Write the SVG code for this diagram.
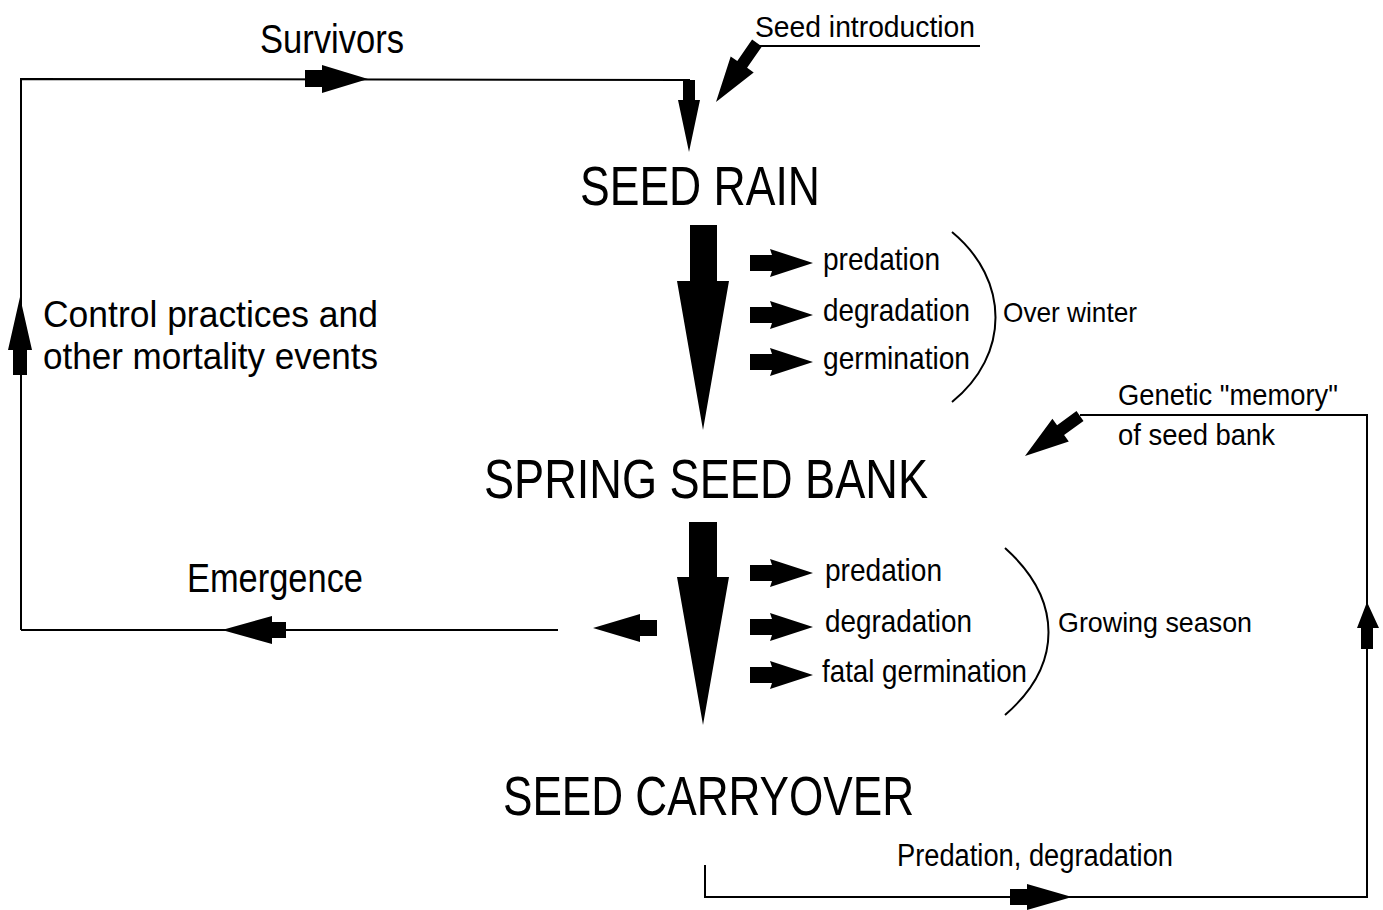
<svg xmlns="http://www.w3.org/2000/svg" width="1383" height="910" viewBox="0 0 1383 910">
<style>
text{font-family:"Liberation Sans",Arial,sans-serif;fill:#000}
.big{font-size:56px}
.mid{font-size:40px}
.lab{font-size:32px}
.sm{font-size:28px}
.ln{fill:none;stroke:#000;stroke-width:2}
.ar{fill:#000;stroke:none}
</style>
<defs>
<path id="sa" d="M0,-8 L22,-8 L20,-14 L63,0 L20,14 L22,8 L0,8 Z"/>
</defs>
<g id="connectors">
<polyline class="ln" points="705,865 705,897 1367,897 1367,415 1080,415"/>
<polyline class="ln" points="21,630 21,79 689,80 689,90"/>
<polyline class="ln" points="558,630 21,630"/>
<line class="ln" x1="757" y1="46" x2="980" y2="46"/>
<path class="ar" d="M305,70 L322,70 L322,65 L368,79 L322,93 L322,87 L305,87 Z"/>
<path class="ar" d="M683,80 L695,80 L695,100 L700,100 L689,152 L678,100 L683,100 Z"/>
<path class="ar" d="M761.9,46.4 L747.1,67.8 L753.7,72.4 L716,102 L730.7,56.4 L737.3,61 L752.1,39.6 Z"/>
<path class="ar" d="M1083.5,420.9 L1064.1,435 L1068.8,441.4 L1025,456 L1052.4,418.8 L1057.1,425.2 L1076.5,411.1 Z"/>
<path class="ar" d="M13,375 L13,350 L8,350 L20,297 L32,350 L27,350 L27,375 Z"/>
<path class="ar" d="M286,622 L272,622 L272,616 L222,630 L272,644 L272,638 L286,638 Z"/>
<path class="ar" d="M657,620 L640,620 L640,614 L593,628 L640,642 L640,636 L657,636 Z"/>
<path class="ar" d="M1010,889 L1027,889 L1027,884 L1072,897 L1027,910 L1027,905 L1010,905 Z"/>
<path class="ar" d="M1361,649 L1361,628 L1357,628 L1367,602 L1379,628 L1373,628 L1373,649 Z"/>
<path class="ar" d="M690,225 L717,225 L717,281 L729,281 L703,430 L677,281 L690,281 Z"/>
<path class="ar" d="M689,522 L717,522 L717,577 L729,577 L703,725 L677,577 L689,577 Z"/>
<use href="#sa" x="750" y="263"/>
<use href="#sa" x="750" y="315"/>
<use href="#sa" x="750" y="362"/>
<use href="#sa" x="750" y="573"/>
<use href="#sa" x="750" y="627"/>
<use href="#sa" x="750" y="675"/>
<path class="ln" d="M952,232 C1010,280 1010,355 952,402"/>
<path class="ln" d="M1005,548 C1063,600 1063,665 1005,715"/>
</g>
<g id="seed-rain"><text class="big" x="580" y="205" textLength="240" lengthAdjust="spacingAndGlyphs">SEED RAIN</text></g>
<g id="spring-seed-bank"><text class="big" x="484" y="498" textLength="444" lengthAdjust="spacingAndGlyphs">SPRING SEED BANK</text></g>
<g id="seed-carryover"><text class="big" x="503" y="815" textLength="411" lengthAdjust="spacingAndGlyphs">SEED CARRYOVER</text></g>
<g id="labels">
<text style="font-size:30px" x="755" y="37" textLength="220" lengthAdjust="spacingAndGlyphs">Seed introduction</text>
<text class="mid" x="260" y="53" textLength="144" lengthAdjust="spacingAndGlyphs">Survivors</text>
<text class="lab" x="823" y="270" textLength="117" lengthAdjust="spacingAndGlyphs">predation</text>
<text class="lab" x="823" y="321" textLength="147" lengthAdjust="spacingAndGlyphs">degradation</text>
<text class="lab" x="823" y="369" textLength="147" lengthAdjust="spacingAndGlyphs">germination</text>
<text class="sm" x="1003" y="322" textLength="134" lengthAdjust="spacingAndGlyphs">Over winter</text>
<text style="font-size:36px" x="43" y="327" textLength="335" lengthAdjust="spacingAndGlyphs">Control practices and</text>
<text style="font-size:36px" x="43" y="369" textLength="335" lengthAdjust="spacingAndGlyphs">other mortality events</text>
<text style="font-size:30px" x="1118" y="405" textLength="220" lengthAdjust="spacingAndGlyphs">Genetic "memory"</text>
<text style="font-size:30px" x="1118" y="445" textLength="157" lengthAdjust="spacingAndGlyphs">of seed bank</text>
<text class="mid" x="187" y="592" textLength="176" lengthAdjust="spacingAndGlyphs">Emergence</text>
<text class="lab" x="825" y="581" textLength="117" lengthAdjust="spacingAndGlyphs">predation</text>
<text class="lab" x="825" y="632" textLength="147" lengthAdjust="spacingAndGlyphs">degradation</text>
<text class="lab" x="822" y="682" textLength="205" lengthAdjust="spacingAndGlyphs">fatal germination</text>
<text class="sm" x="1058" y="632" textLength="194" lengthAdjust="spacingAndGlyphs">Growing season</text>
<text style="font-size:31px" x="897" y="866" textLength="276" lengthAdjust="spacingAndGlyphs">Predation, degradation</text>
</g>
</svg>
